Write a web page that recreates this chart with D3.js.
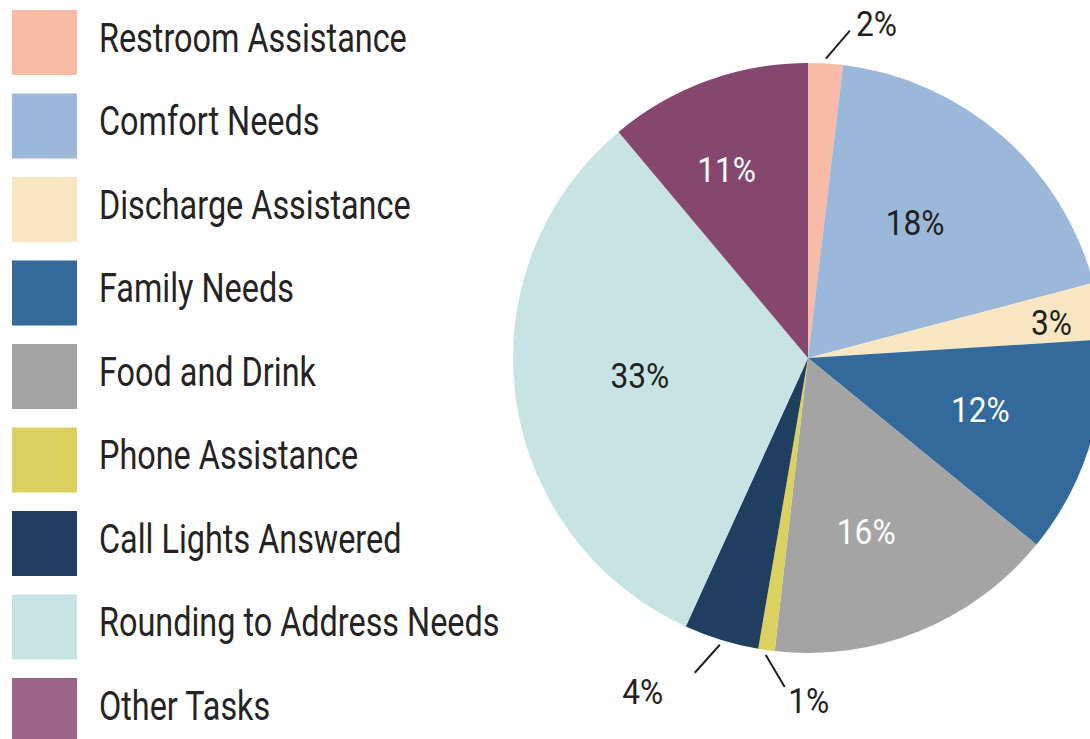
<!DOCTYPE html>
<html>
<head>
<meta charset="utf-8">
<script src="https://cdn.jsdelivr.net/npm/d3@7"></script>
<style>
    html, body { margin: 0; padding: 0; background: #fff; }
    svg text { font-family: Roboto, "Liberation Sans", Arial, sans-serif; font-weight: 400; }
</style>
</head>
<body>
<svg id="chart" width="1090" height="739"></svg>
<script>
// Categories, in the order they go round the pie (clockwise from 12 o'clock)
const categories = [
    "Restroom Assistance",
    "Comfort Needs",
    "Discharge Assistance",
    "Family Needs",
    "Food and Drink",
    "Phone Assistance",
    "Call Lights Answered",
    "Rounding to Address Needs",
    "Other Tasks"
];
// Slice sizes (share of the whole, %)
const shares = [1.9, 19.0, 3.1, 11.9, 15.9, 0.9, 4.1, 32.1, 11.1];
// Labels as printed on the chart
const labels = ["2%", "18%", "3%", "12%", "16%", "1%", "4%", "33%", "11%"];
const colors = ["#f9bba6", "#9bb8db", "#f9e6c2", "#336a9b", "#a4a4a4", "#dbd160", "#1f3e60", "#c8e3e3", "#85476e"];

const width = 1090;
const height = 739;
const cx = 808, cy = 358, radius = 295;
// no narrow font installed, so squeeze the regular one
const narrow = 0.81;
const narrowPct = 0.88;

const svg = d3.select("#chart");

// Legend
const legendTop = 42.5;
const legendStep = 83.5;
const y = d3.scalePoint()
    .domain(categories)
    .range([legendTop, legendTop + legendStep * (categories.length - 1)]);

const legend = svg.append("g")
    .selectAll("g")
    .data(categories)
    .join("g")
    .attr("transform", d => `translate(0, ${y(d)})`);

legend.append("rect")
    .attr("x", 12)
    .attr("y", -32.5)
    .attr("width", 65)
    .attr("height", 65)
    .attr("fill", (d, i) => i === categories.length - 1 ? "#9a6387" : colors[i]);

legend.append("text")
    .attr("transform", `translate(99, 9) scale(${narrow}, 1)`)
    .attr("fill", "#262324")
    .style("font-size", "40px")
    .text(d => d);

// Pie
const pie = d3.pie().sort(null).value(d => d.value);
const arcs = pie(categories.map((name, i) => ({ name, value: shares[i], label: labels[i], color: colors[i] })));

const arc = d3.arc().innerRadius(0).outerRadius(radius);

const pieArea = svg.append("g")
    .attr("transform", `translate(${cx}, ${cy})`);

pieArea.selectAll("path")
    .data(arcs)
    .join("path")
    .attr("d", arc)
    .attr("fill", d => d.data.color);

// Label placement: radius and angle nudge (degrees) from the slice middle
const darkSlices = ["Family Needs", "Food and Drink", "Other Tasks"];
const inside = {
    "Comfort Needs": { r: 173, da: -2.8 },
    "Discharge Assistance": { r: 246, da: 0.9 },
    "Family Needs": { r: 180, da: -1.1 },
    "Food and Drink": { r: 183, da: 3.6 },
    "Rounding to Address Needs": { r: 169, da: 1.8 },
    "Other Tasks": { r: 205, da: -3.4 }
};
const callouts = {
    // leader end offset and label offset from the leader end
    "Restroom Assistance": { lx: 24, ly: -28, tx: 6, ty: 5, anchor: "start" },
    "Phone Assistance": { lx: 19, ly: 32, tx: 24, ty: 26, anchor: "middle" },
    "Call Lights Answered": { lx: -25, ly: 28, tx: -52, ty: 31, anchor: "middle" }
};

const polar = (a, r) => [Math.sin(a) * r, -Math.cos(a) * r];
const rad = deg => deg * Math.PI / 180;

arcs.forEach(d => {
    const mid = (d.startAngle + d.endAngle) / 2;
    const c = callouts[d.data.name];
    if (c) {
        const [x0, y0] = polar(mid, radius + 5);
        const x1 = x0 + c.lx, y1 = y0 + c.ly;
        pieArea.append("line")
            .attr("x1", x0).attr("y1", y0)
            .attr("x2", x1).attr("y2", y1)
            .attr("stroke", "#231f20")
            .attr("stroke-width", 2);
        pieArea.append("text")
            .attr("transform", `translate(${x1 + c.tx}, ${y1 + c.ty}) scale(${narrowPct}, 1)`)
            .attr("text-anchor", c.anchor)
            .attr("fill", "#231f20")
            .style("font-size", "36px")
            .text(d.data.label);
    }
    else {
        const p = inside[d.data.name] || { r: 178, da: 0 };
        const [x, yy] = polar(mid + rad(p.da), p.r);
        pieArea.append("text")
            .attr("transform", `translate(${x}, ${yy}) scale(${narrowPct}, 1)`)
            .attr("dy", "0.35em")
            .attr("text-anchor", "middle")
            .attr("fill", darkSlices.includes(d.data.name) ? "#ffffff" : "#231f20")
            .style("font-size", "36px")
            .text(d.data.label);
    }
});
</script>
</body>
</html>
